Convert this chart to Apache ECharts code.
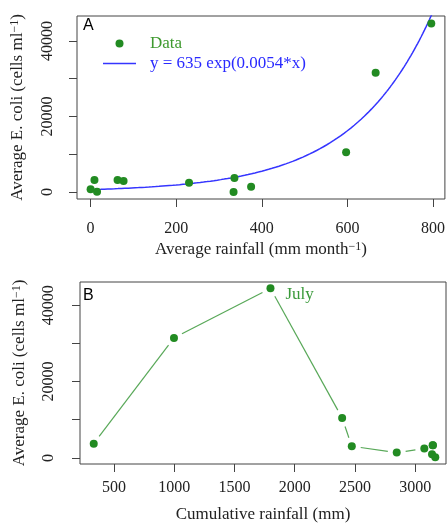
<!DOCTYPE html>
<html>
<head>
<meta charset="utf-8">
<script src="https://cdn.jsdelivr.net/npm/echarts@6/dist/echarts.min.js"></script>
<style>html,body{margin:0;padding:0;background:#fff;}#c{width:448px;height:527px;}</style>
</head>
<body>
<div id="c"></div>
<script>
// ---- Panel A data: monthly rainfall vs average E. coli ----
const rainA = [0, 9, 15, 63, 77, 230, 334, 336, 375, 597, 666, 796];
const ecoliA = [700, 3190, 50, 3190, 2920, 2470, 0, 3720, 1400, 10540, 31600, 44620];
// fitted model shown in the legend: y = 635 exp(0.0054*x)
const FIT_A = 635;
const FIT_B = 0.0054;
const FIT_LABEL = 'y = 635 exp(0.0054*x)';
const fitX = [];
for (let x = 0; x <= 800; x += 4) fitX.push(x);

// ---- Panel B data: cumulative rainfall vs average E. coli ----
const cumRain = [332, 998, 1799, 2394, 2474, 2847, 3076, 3145, 3140, 3148, 3167];
const ecoliB = [3740, 31450, 44440, 10460, 3060, 1390, 2440, 3300, 970, 3300, 180];
const JULY_INDEX = 2;

// ---- tick values ----
const xTicksA = [0, 200, 400, 600, 800];
const yTicks = [0, 10000, 20000, 30000, 40000];
const yLabels = [0, 20000, 40000];
const xTicksB = [500, 1000, 1500, 2000, 2500, 3000];

const GREEN = '#228B22';
const LINE_GREEN = '#58a858';
const BLUE = '#3535ff';
const SERIF = 'Liberation Serif';
const GAP = 9;

const chart = echarts.init(document.getElementById('c'), null, {renderer: 'canvas'});

function yName() {
  return '{a|Average E. coli (cells ml}{s|−1}{a|)}';
}
const nameRich = {
  a: {fontFamily: SERIF, fontSize: 17, color: '#222', lineHeight: 18},
  s: {fontFamily: SERIF, fontSize: 12, color: '#222', verticalAlign: 'top', lineHeight: 18, padding: [0, 0, 6, 0]}
};
const plain = v => String(v);

function xAxisBase(grid, min, max, ticks, margin, name, gap) {
  return {
    type: 'value', gridIndex: grid, min: min, max: max,
    axisLine: {show: false, onZero: false},
    splitLine: {show: false},
    axisTick: {show: true, length: 8, customValues: ticks, lineStyle: {color: '#444'}},
    axisLabel: {customValues: ticks, formatter: plain, margin: margin, fontFamily: SERIF, fontSize: 16, color: '#222'},
    name: name, nameLocation: 'middle', nameGap: gap,
    nameTextStyle: {rich: nameRich}
  };
}
function yAxisBase(grid, min, max, margin, gap) {
  return {
    type: 'value', gridIndex: grid, min: min, max: max,
    axisLine: {show: false, onZero: false},
    splitLine: {show: false},
    axisTick: {show: true, length: 8, customValues: yTicks, lineStyle: {color: '#444'}},
    axisLabel: {customValues: yLabels, formatter: plain, rotate: 90, margin: margin, fontFamily: SERIF, fontSize: 16, color: '#222'},
    name: yName(), nameLocation: 'middle', nameGap: gap,
    nameTextStyle: {rich: nameRich}
  };
}

const segs = [];
for (let i = 1; i < cumRain.length; i++) {
  segs.push([cumRain[i - 1], ecoliB[i - 1], cumRain[i], ecoliB[i]]);
}

const option = {
  animation: false,
  backgroundColor: '#fff',
  title: [
    {text: 'A', left: 83, top: 18, padding: 0, textStyle: {fontFamily: 'Liberation Sans', fontWeight: 'normal', fontSize: 16, color: '#000'}},
    {text: 'B', left: 83, top: 288, padding: 0, textStyle: {fontFamily: 'Liberation Sans', fontWeight: 'normal', fontSize: 16, color: '#000'}}
  ],
  legend: {
    left: 103, top: 35, orient: 'vertical', padding: 0,
    itemWidth: 33, itemHeight: 8, itemGap: 3, selectedMode: false,
    textStyle: {fontFamily: SERIF, fontSize: 17, lineHeight: 16, padding: [0, 0, 0, 9]},
    data: [
      {name: 'Data', icon: 'circle', textStyle: {color: '#3f9a2f'}},
      {name: FIT_LABEL, icon: 'path://M0,0L33,0L33,1.6L0,1.6Z', textStyle: {color: '#2a2aff'}}
    ]
  },
  grid: [
    {left: 77, top: 16, width: 369, height: 183, show: true, borderColor: '#444', borderWidth: 1, backgroundColor: 'transparent'},
    {left: 80, top: 282, width: 366, height: 182, show: true, borderColor: '#444', borderWidth: 1, backgroundColor: 'transparent'}
  ],
  xAxis: [
    xAxisBase(0, -31.8, 827.8, xTicksA, 22, '{a|Average rainfall (mm month}{s|−1}{a|)}', 42),
    xAxisBase(1, 218, 3256, xTicksB, 15.5, '{a|Cumulative rainfall (mm)}', 42)
  ],
  yAxis: [
    yAxisBase(0, -1850, 46600, 21.5, 50),
    yAxisBase(1, -1600, 46100, 23.5, 51)
  ],
  series: [
    {
      name: FIT_LABEL, type: 'line', xAxisIndex: 0, yAxisIndex: 0,
      showSymbol: false, clip: true, color: BLUE,
      lineStyle: {color: BLUE, width: 1.5},
      data: fitX.map(x => [x, FIT_A * Math.exp(FIT_B * x)]),
      z: 2
    },
    {
      name: 'Data', type: 'scatter', xAxisIndex: 0, yAxisIndex: 0,
      symbolSize: 8, itemStyle: {color: GREEN, opacity: 1},
      data: rainA.map((x, i) => [x, ecoliA[i]]),
      z: 3
    },
    {
      name: 'segmentsB', type: 'custom', xAxisIndex: 1, yAxisIndex: 1,
      encode: {x: [0, 2], y: [1, 3]},
      data: segs,
      renderItem: function (params, api) {
        const p0 = api.coord([api.value(0), api.value(1)]);
        const p1 = api.coord([api.value(2), api.value(3)]);
        const dx = p1[0] - p0[0], dy = p1[1] - p0[1];
        const len = Math.sqrt(dx * dx + dy * dy);
        if (len <= 2 * GAP) return null;
        const ux = dx / len, uy = dy / len;
        return {
          type: 'line',
          shape: {x1: p0[0] + ux * GAP, y1: p0[1] + uy * GAP, x2: p1[0] - ux * GAP, y2: p1[1] - uy * GAP},
          style: {stroke: LINE_GREEN, lineWidth: 1.2}
        };
      },
      z: 2
    },
    {
      name: 'pointsB', type: 'scatter', xAxisIndex: 1, yAxisIndex: 1,
      symbolSize: 8, itemStyle: {color: GREEN, opacity: 1},
      data: cumRain.map((x, i) => {
        const item = {value: [x, ecoliB[i]]};
        if (i === JULY_INDEX) {
          item.label = {show: true, formatter: 'July', position: 'right', distance: 11, offset: [0, 6],
            fontFamily: SERIF, fontSize: 17, color: '#3a9a3a'};
        }
        return item;
      }),
      z: 3
    }
  ]
};
chart.setOption(option);
</script>
</body>
</html>
